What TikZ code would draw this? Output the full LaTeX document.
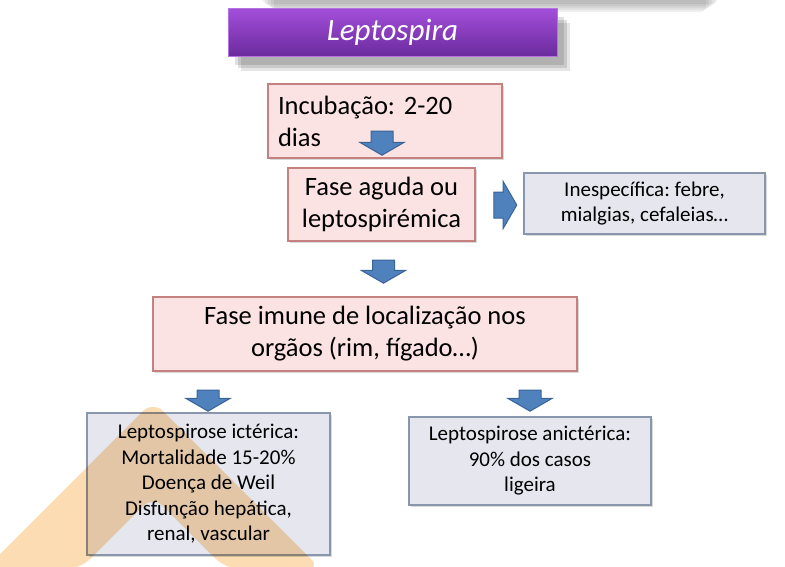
\documentclass[tikz,border=0pt]{standalone}
\usepackage{fontspec}
\setmainfont{Carlito}
\frenchspacing
\usetikzlibrary{shapes.arrows,shadows,positioning}
\definecolor{purpletop}{HTML}{A34FDA}
\definecolor{purplemid}{HTML}{7230A6}
\definecolor{purplebot}{HTML}{6B2B9E}
\definecolor{rosefill}{HTML}{FBE3E3}
\definecolor{roseedge}{HTML}{C4817F}
\definecolor{slatefill}{HTML}{E6E6EF}
\definecolor{slateedge}{HTML}{8A96AC}
\definecolor{arrowblue}{HTML}{4F81BD}
\definecolor{arrowedge}{HTML}{3A6496}
\definecolor{peach}{HTML}{FCDCB2}
\tikzset{
  softshadow/.style={
    drop shadow={shadow xshift=2pt, shadow yshift=-2pt, opacity=.25, fill=black!60}
  },
  titlebox/.style={
    rectangle, draw=purpletop!80, line width=1pt,
    top color=purpletop, middle color=purplemid, bottom color=purplebot,
    text=white, font=\fontsize{31}{36}\selectfont\itshape,
    minimum width=329, minimum height=48, inner sep=0pt,
    drop shadow={shadow xshift=7pt, shadow yshift=-9pt, opacity=.12, fill=black},
    drop shadow={shadow xshift=10pt, shadow yshift=-12pt, opacity=.12, fill=black},
    drop shadow={shadow xshift=13pt, shadow yshift=-15pt, opacity=.1, fill=black}
  },
  phasebox/.style={
    rectangle, draw=roseedge, fill=rosefill, line width=1.5pt,
    font=\fontsize{26.5}{32}\selectfont, align=center, inner sep=0pt,
    softshadow
  },
  notebox/.style={
    rectangle, draw=slateedge, fill=slatefill, line width=1.5pt,
    font=\fontsize{21}{25.5}\selectfont, align=center, inner sep=0pt,
    softshadow
  },
  blockarrow/.style={
    single arrow, draw=arrowedge, fill=arrowblue, line width=1pt,
    single arrow tip angle=120, inner xsep=0pt
  },
  downarrow/.style={
    blockarrow, rotate=-90, inner ysep=10.5pt,
    single arrow head extend=11pt, minimum height=#1
  },
  downarrow/.default=23pt,
  rightarrow/.style={
    blockarrow, inner ysep=12.5pt,
    single arrow head extend=10.5pt, minimum height=23pt
  },
  chevron/.style={fill=peach, blend mode=multiply, rounded corners=14pt}
}

\begin{document}
\begin{tikzpicture}[x=1pt, y=-1pt]
\useasboundingbox (0,0) rectangle (785,566);
\clip (0,0) rectangle (785,566);

% shadow of the slide header above
\foreach \d in {0,...,4}
  \fill[black, opacity=.06, rounded corners=6pt] (262+\d*3,-10) rectangle (718-\d*3,4+\d*2);

% title
\node[titlebox] (title) at (392.5,32) {Leptospira};

% phases
\node[phasebox, minimum width=234, minimum height=74, text width=214, align=left]
  (incub) at (385,121) {Incubação: 2-20\\dias};
\node[phasebox, minimum width=187, minimum height=73] (aguda) at (381.5,204.5)
  {Fase aguda ou\\leptospirémica};
\node[notebox, minimum width=241, minimum height=61] (inesp) at (644.5,203.5)
  {Inespecífica: febre,\\mialgias, cefaleias…};
\node[phasebox, minimum width=424, minimum height=74] (imune) at (365,334)
  {Fase imune de localização nos\\orgãos (rim, fígado…)};

% outcomes
\node[notebox, minimum width=243, minimum height=142] (icter) at (208.5,484)
  {Leptospirose ictérica:\\Mortalidade 15-20\%\\Doença de Weil\\Disfunção hepática,\\renal, vascular};
\node[notebox, minimum width=242, minimum height=88] (anicter) at (530,461)
  {Leptospirose anictérica:\\90\% dos casos\\ligeira};

% block arrows
\node[downarrow=24pt] (incubdown) at (382,140) {};
\node[rightarrow] (agudaright) at (501.5,205) {};
\node[downarrow] (agudadown) at (383.5,268.5) {};
\node[downarrow=21pt] (icterdown) at (208,397.5) {};
\node[downarrow=21pt] (anicterdown) at (530,397.5) {};

% background chevron
\fill[chevron] (-15,569) -- (153,401) -- (321,569) -- (226,569)
  -- (153,496) -- (80,569) -- cycle;

\end{tikzpicture}
\end{document}
